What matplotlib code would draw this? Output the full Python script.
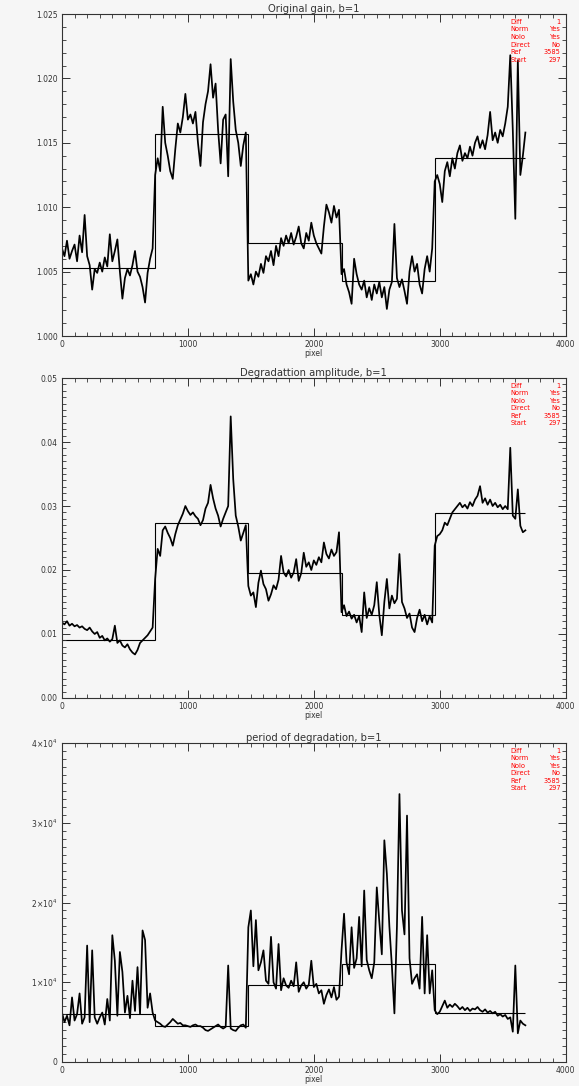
import numpy as np
import matplotlib
matplotlib.use('Agg')
import matplotlib.pyplot as plt
from matplotlib.ticker import MultipleLocator

# pixel index, one sample every 20 pixels
pixel = np.arange(0, 3700, 20)

gain = [
    1.0068, 1.0062, 1.0074, 1.0060, 1.0066, 1.0071, 1.0058, 1.0078, 1.0065, 1.0094,
    1.0062, 1.0055, 1.0036, 1.0052, 1.0049, 1.0057, 1.0050, 1.0061, 1.0054, 1.0079,
    1.0058, 1.0066, 1.0075, 1.0050, 1.0029, 1.0045, 1.0052, 1.0047, 1.0055, 1.0066,
    1.0050, 1.0046, 1.0038, 1.0026, 1.0049, 1.0060, 1.0068, 1.0125, 1.0138, 1.0128,
    1.0178, 1.0150, 1.0140, 1.0128, 1.0122, 1.0145, 1.0165, 1.0158, 1.0170, 1.0188,
    1.0168, 1.0172, 1.0165, 1.0174, 1.0150, 1.0132, 1.0166, 1.0180, 1.0190, 1.0211,
    1.0185, 1.0196, 1.0160, 1.0134, 1.0168, 1.0172, 1.0124, 1.0215, 1.0182, 1.0160,
    1.0150, 1.0132, 1.0148, 1.0158, 1.0043, 1.0048, 1.0040, 1.0050, 1.0046, 1.0056,
    1.0049, 1.0062, 1.0058, 1.0066, 1.0055, 1.0070, 1.0062, 1.0076, 1.0070, 1.0078,
    1.0072, 1.0080, 1.0071, 1.0077, 1.0085, 1.0072, 1.0068, 1.0080, 1.0074, 1.0088,
    1.0078, 1.0072, 1.0068, 1.0064, 1.0085, 1.0102, 1.0096, 1.0088, 1.0101, 1.0092,
    1.0098, 1.0048, 1.0052, 1.0040, 1.0034, 1.0025, 1.0060, 1.0048, 1.0040, 1.0036,
    1.0043, 1.0030, 1.0038, 1.0028, 1.0040, 1.0033, 1.0042, 1.0030, 1.0038, 1.0021,
    1.0036, 1.0042, 1.0087, 1.0045, 1.0038, 1.0044, 1.0035, 1.0025, 1.0050, 1.0062,
    1.0050, 1.0056, 1.0040, 1.0033, 1.0052, 1.0062, 1.0050, 1.0068, 1.0120, 1.0125,
    1.0118, 1.0104, 1.0128, 1.0135, 1.0124, 1.0138, 1.0130, 1.0142, 1.0148, 1.0136,
    1.0142, 1.0138, 1.0147, 1.0140, 1.0150, 1.0155, 1.0146, 1.0152, 1.0145, 1.0156,
    1.0174, 1.0152, 1.0158, 1.0150, 1.0160, 1.0155, 1.0165, 1.0178, 1.0218, 1.0160,
    1.0091, 1.0214, 1.0125, 1.0140, 1.0158,
]

amplitude = [
    0.0118, 0.0115, 0.0120, 0.0113, 0.0116, 0.0112, 0.0114, 0.0110, 0.0112, 0.0108,
    0.0106, 0.0110, 0.0104, 0.0100, 0.0103, 0.0094, 0.0097, 0.0090, 0.0093, 0.0088,
    0.0092, 0.0113, 0.0086, 0.0090, 0.0082, 0.0079, 0.0084, 0.0076, 0.0071, 0.0068,
    0.0075, 0.0086, 0.0090, 0.0094, 0.0098, 0.0104, 0.0110, 0.0186, 0.0233, 0.0222,
    0.0262, 0.0268, 0.0258, 0.0250, 0.0238, 0.0256, 0.0270, 0.0279, 0.0288, 0.0300,
    0.0292, 0.0286, 0.0290, 0.0284, 0.0280, 0.0270, 0.0278, 0.0296, 0.0305, 0.0333,
    0.0312, 0.0296, 0.0285, 0.0268, 0.0280, 0.0290, 0.0300, 0.0440, 0.0342, 0.0285,
    0.0268, 0.0246, 0.0258, 0.0270, 0.0175, 0.0160, 0.0165, 0.0142, 0.0180, 0.0199,
    0.0178, 0.0170, 0.0152, 0.0162, 0.0176, 0.0170, 0.0185, 0.0222, 0.0196, 0.0190,
    0.0200, 0.0188, 0.0196, 0.0217, 0.0183, 0.0195, 0.0227, 0.0205, 0.0212, 0.0200,
    0.0215, 0.0208, 0.0220, 0.0212, 0.0243, 0.0225, 0.0218, 0.0232, 0.0222, 0.0228,
    0.0259, 0.0134, 0.0145, 0.0128, 0.0135, 0.0124, 0.0130, 0.0118, 0.0128, 0.0103,
    0.0165, 0.0125, 0.0140, 0.0130, 0.0145, 0.0181, 0.0130, 0.0098, 0.0150, 0.0186,
    0.0140, 0.0160, 0.0148, 0.0155, 0.0225, 0.0150, 0.0140, 0.0125, 0.0132, 0.0110,
    0.0103, 0.0125, 0.0138, 0.0120, 0.0130, 0.0115, 0.0128, 0.0118, 0.0238, 0.0253,
    0.0256, 0.0262, 0.0274, 0.0270, 0.0280, 0.0290, 0.0295, 0.0300, 0.0305, 0.0298,
    0.0302, 0.0296, 0.0306, 0.0300, 0.0310, 0.0316, 0.0331, 0.0305, 0.0312, 0.0302,
    0.0310, 0.0300, 0.0305, 0.0298, 0.0302, 0.0295, 0.0300, 0.0295, 0.0391, 0.0285,
    0.0280, 0.0326, 0.0269, 0.0259, 0.0262,
]

period = [
    6200, 5000, 5800, 4600, 8100, 5200, 6000, 8600, 4800, 5600,
    14600, 5000, 14000, 5600, 4800, 5600, 6200, 4700, 7900, 5200,
    15900, 12700, 5800, 13800, 11300, 6200, 8300, 5500, 10200, 6400,
    11900, 6000, 16500, 15300, 6800, 8600, 6200, 5200, 5000, 4800,
    4500, 4400, 4700, 5000, 5400, 5100, 4800, 4900, 4600, 4600,
    4500, 4400, 4600, 4700, 4500, 4500, 4300, 4000, 3900, 4100,
    4300, 4500, 4700, 4400, 4200, 4400, 12100, 4200, 4000, 3900,
    4300, 4600, 4700, 4300, 16900, 19000, 12000, 17800, 11500, 12500,
    14000, 10200, 9800, 15700, 10000, 9200, 14800, 9000, 10500, 9600,
    9300, 10200, 9500, 12500, 8800, 9600, 10000, 9200, 9700, 12700,
    9400, 9800, 8600, 9000, 7300, 8400, 9100, 8100, 9400, 7800,
    8200, 14000, 18600, 12500, 11000, 16900, 11800, 13000, 18200, 12000,
    21500, 12800, 11500, 10500, 12500, 21900, 17600, 13500, 27800, 23600,
    17000, 12000, 6100, 17000, 33600, 19000, 16000, 30900, 13000, 9800,
    10500, 11000, 9200, 18200, 8600, 15900, 8600, 11500, 6500, 6000,
    6300, 7000, 7700, 6800, 7200, 6900, 7300, 7000, 6600, 6900,
    6500, 6800, 6400, 6700, 6600, 6900, 6500, 6300, 6600, 6200,
    6400, 6100, 6300, 5800, 6000, 5700, 5900, 5400, 5600, 3800,
    12100, 3600, 5200, 4800, 4600,
]

# piecewise constant fits
seg_edges = [0, 740, 1480, 2220, 2960, 3680]
gain_fit = [1.0053, 1.0157, 1.0072, 1.0043, 1.0138]
amp_fit = [0.0091, 0.0273, 0.0196, 0.0130, 0.0289]
period_fit = [6000, 4500, 9600, 12300, 6200]

titles = ['Original gain, b=1', 'Degradattion amplitude, b=1', 'period of degradation, b=1']
info_keys = ['Diff', 'Norm', 'Nolo', 'Direct', 'Ref', 'Start']
info_vals = ['1', 'Yes', 'Yes', 'No', '3585', '297']

bg = '#f6f6f6'
fig = plt.figure(figsize=(5.79, 10.86), dpi=100, facecolor=bg)

boxes = [[0.107, 0.6906, 0.870, 0.2965],
         [0.107, 0.3573, 0.870, 0.2946],
         [0.107, 0.0221, 0.870, 0.2937]]
series = [gain, amplitude, period]
fits = [gain_fit, amp_fit, period_fit]
ylims = [(1.000, 1.025), (0.0, 0.05), (0, 40000)]
ymajor = [0.005, 0.01, 10000]
yminor = [0.001, 0.001, 1000]

for i in range(3):
    ax = fig.add_axes(boxes[i], facecolor=bg)
    ax.plot(pixel, series[i], color='black', lw=1.25)
    ax.stairs(fits[i], seg_edges, baseline=None, color='black', lw=0.8)
    ax.set_xlim(0, 4000)
    ax.set_ylim(*ylims[i])
    ax.xaxis.set_major_locator(MultipleLocator(1000))
    ax.xaxis.set_minor_locator(MultipleLocator(100))
    ax.yaxis.set_major_locator(MultipleLocator(ymajor[i]))
    ax.yaxis.set_minor_locator(MultipleLocator(yminor[i]))
    ax.tick_params(which='both', direction='in', top=True, right=True,
                   labelsize=5.5, colors='#333333', pad=3)
    ax.tick_params(which='major', length=6, width=0.7)
    ax.tick_params(which='minor', length=3, width=0.6)
    for sp in ax.spines.values():
        sp.set_linewidth(0.8)
        sp.set_color('#333333')
    if i == 0:
        ax.yaxis.set_major_formatter(lambda v, p: '%.3f' % v)
    elif i == 1:
        ax.yaxis.set_major_formatter(lambda v, p: '%.2f' % v)
    else:
        ax.yaxis.set_major_formatter(
            lambda v, p: '0' if v == 0 else r'$%d\!\times\!10^4$' % round(v / 10000))
    ax.set_title(titles[i], fontsize=7.2, pad=1.5, color='#333333')
    ax.set_xlabel('pixel', fontsize=5.5, labelpad=0, color='#333333')
    for k in range(len(info_keys)):
        yy = 0.985 - k * 0.0235
        ax.text(0.89, yy, info_keys[k], transform=ax.transAxes, color='red',
                fontsize=4.8, va='top', ha='left')
        ax.text(0.99, yy, info_vals[k], transform=ax.transAxes, color='red',
                fontsize=4.8, va='top', ha='right')

fig.savefig('out.png', dpi=100, facecolor=bg)
